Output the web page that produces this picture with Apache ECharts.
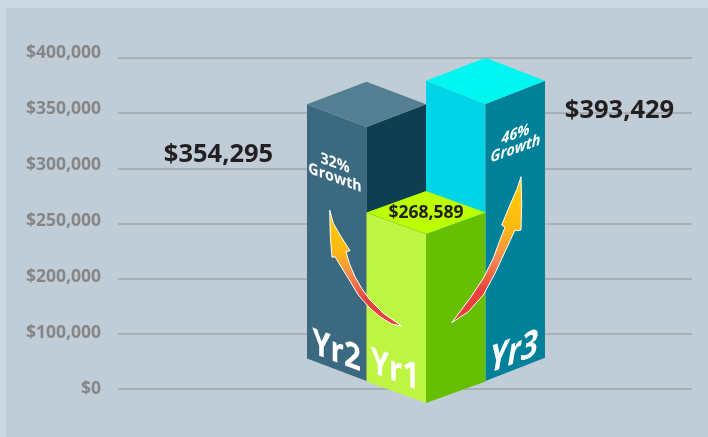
<!DOCTYPE html>
<html>
<head>
<meta charset="utf-8">
<style>html,body{margin:0;padding:0;background:#CCD8E2}#c{width:708px;height:437px}</style>
<script src="https://cdn.jsdelivr.net/npm/echarts@6/dist/echarts.min.js"></script>
</head>
<body>
<div id="c"></div>
<script>
// Tick labels (the reference's axis is evenly spaced but unevenly labelled)
var tickLabels = ['$0', '$100,000', '$200,000', '$250,000', '$300,000', '$350,000', '$400,000'];
// Bars, left to right
var categories = ['Yr2', 'Yr1', 'Yr3'];
var totals = [354295, 268589, 393429];
// Heights as drawn in axis steps (one step = one labelled gridline)
var frontTopLevels = [4.75, 2.81, 5.166];
var frontBaseLevels = [0.145, -0.254, 0.145];
var depthLevels = [0.41, 0.39, 0.42];
var growthPercent = [32, null, 46];
// Back-to-front painting order
var drawOrder = ['Yr2', 'Yr3', 'Yr1'];

var FONT = '"Open Sans", "Noto Sans", sans-serif';
var look = {
  Yr2: { left: '#3B6A80', right: '#0E3F50', top: '#547F93',
    name: { dx: -30, dy: -29, skew: 0.38, italic: false, size: 36, sx: 0.82 },
    total: { dx: -148, dy: -226 },
    growth: { dx: -31.5, dy: -210.5, skew: 0.36, italic: false } },
  Yr1: { left: '#BEF542', right: '#66BF00', top: '#BBFF00',
    name: { dx: -31, dy: -32, skew: 0.38, italic: false, size: 36, sx: 0.82 } },
  Yr3: { left: '#00D5E8', right: '#00819A', top: '#00F6F0',
    name: { dx: 28.5, dy: -28, skew: -0.38, italic: true, size: 37, sx: 0.85 },
    total: { dx: 134, dy: -270 },
    growth: { dx: 30, dy: -239.5, skew: -0.36, italic: true } }
};
// Arrow outlines, relative to the front-bottom corner of Yr1
var arrowLeft = [[-96.3,-193],[-92.7,-179.7],[-86,-168],[-76,-152.3],[-80,-151.3],[-76.7,-139.7],[-71,-126.3],[-64.3,-114.7],[-56,-103],[-42.7,-89.7],[-24.3,-77],[-34.3,-79],[-46,-86.3],[-56,-94.7],[-67.7,-108],[-77.7,-124.7],[-86,-138],[-91,-146.3],[-94,-145.7],[-95.7,-166.3]];
var arrowRight = [[95,-226.3],[91.3,-214.7],[84,-198],[75.7,-178],[79,-175.7],[73.3,-161.3],[67.3,-144.7],[57.3,-124.7],[44,-104.7],[25.7,-80.3],[42.3,-91.3],[57.3,-108],[69,-129.7],[79,-151.3],[89,-173],[91.3,-172.3],[95,-173],[95.7,-199.7]];

function fireGradient() {
  return new echarts.graphic.LinearGradient(0, 0, 0, 1, [
    { offset: 0, color: '#FFD000' },
    { offset: 0.36, color: '#FDB813' },
    { offset: 0.56, color: '#F58A4B' },
    { offset: 0.78, color: '#E8403C' },
    { offset: 1, color: '#E8403C' }
  ]);
}

// Text sheared along the face of a bar: vertical strokes stay vertical, the baseline slopes by k.
// ECharts' custom series has no skew property, so the shear is built from rotate-scale-rotate.
function shearedText(text, x, y, size, k, sx, italic) {
  var m00 = sx, m01 = 0, m10 = k * sx, m11 = 1;
  var E = (m00 + m11) / 2, F = (m00 - m11) / 2, G = (m10 + m01) / 2, H = (m10 - m01) / 2;
  var Q = Math.hypot(E, H), R = Math.hypot(F, G);
  var a1 = Math.atan2(G, F), a2 = Math.atan2(H, E);
  var theta = (a2 - a1) / 2, phi = (a2 + a1) / 2;
  return { type: 'group', x: x, y: y, rotation: -phi, children: [
    { type: 'group', scaleX: Q + R, scaleY: Q - R, children: [
      { type: 'text', rotation: -theta,
        style: { text: text, fill: '#FFFFFF', align: 'center', verticalAlign: 'middle',
          font: (italic ? 'italic ' : '') + 'bold ' + size + 'px ' + FONT } }
    ] }
  ] };
}

function renderBar(params, api) {
  var name = drawOrder[params.dataIndex];
  var st = look[name];
  var idx = api.value(0);
  var front = api.coord([idx, api.value(1)]);
  var base = api.coord([idx, api.value(2)]);
  var dx = api.size([1, 0])[0];
  var dy = api.size([0, api.value(3)])[1];
  var fx = front[0], ty = front[1], by = base[1];
  var children = [
    { type: 'polygon', shape: { points: [[fx, ty], [fx - dx, ty - dy], [fx - dx, by - dy], [fx, by]] }, style: { fill: st.left } },
    { type: 'polygon', shape: { points: [[fx, ty], [fx + dx, ty - dy], [fx + dx, by - dy], [fx, by]] }, style: { fill: st.right } },
    { type: 'polygon', shape: { points: [[fx, ty], [fx - dx, ty - dy], [fx, ty - 2 * dy], [fx + dx, ty - dy]] }, style: { fill: st.top } }
  ];
  function plain(text, x, y, size) {
    return { type: 'text', x: x, y: y,
      style: { text: text, fill: '#231F20', align: 'center', verticalAlign: 'middle',
        font: 'bold ' + size + 'px ' + FONT } };
  }
  var i = categories.indexOf(name);
  var total = '$' + totals[i].toLocaleString('en-US');
  var pct = growthPercent[i];
  children.push(shearedText(name, fx + st.name.dx, by + st.name.dy, st.name.size, st.name.skew, st.name.sx, st.name.italic));
  if (st.total) {
    children.push(plain(total, fx + st.total.dx, by + st.total.dy, 25.5));
  } else {
    children.push(plain(total, fx, ty - dy + 1, 17.5));
  }
  if (pct !== null) {
    var g = st.growth;
    children.push(shearedText(pct + '%', fx + g.dx, by + g.dy - 7, 15.5, g.skew, 0.92, g.italic));
    children.push(shearedText('Growth', fx + g.dx, by + g.dy + 7.5, 15.5, g.skew, 0.92, g.italic));
  }
  if (name === 'Yr1') {
    [arrowLeft, arrowRight].forEach(function (pts) {
      children.push({ type: 'polygon',
        shape: { points: pts.map(function (p) { return [fx + p[0], by + p[1]]; }) },
        style: { fill: fireGradient(), stroke: '#FFFFFF', lineWidth: 1, lineJoin: 'miter' } });
    });
  }
  return { type: 'group', children: children };
}

var chart = echarts.init(document.getElementById('c'), null, { renderer: 'canvas' });
chart.setOption({
  animation: false,
  backgroundColor: '#CCD8E2',
  graphic: [{ type: 'rect', z: -10, silent: true, shape: { x: 6, y: 8, width: 702, height: 429 }, style: { fill: '#C0CDD7' } }],
  grid: [
    { left: 118, right: 16, top: 58, bottom: 48 },
    { left: 336.75, width: 178.5, top: 58, bottom: 48 },
    // labels climb slightly faster than the gridlines in the reference
    { left: 118, right: 16, top: 52.7, bottom: 48.3 }
  ],
  xAxis: [
    { type: 'category', gridIndex: 0, show: false, data: categories },
    { type: 'category', gridIndex: 1, show: false, data: categories },
    { type: 'category', gridIndex: 2, show: false, data: categories }
  ],
  yAxis: [
    { type: 'value', gridIndex: 0, min: 0, max: 6, interval: 1,
      axisLine: { show: false }, axisTick: { show: false }, axisLabel: { show: false },
      splitLine: { show: true, lineStyle: { color: '#A0A6AD', width: 1.5 } } },
    { type: 'value', gridIndex: 1, min: 0, max: 6, interval: 1, show: false, splitLine: { show: false } },
    { type: 'value', gridIndex: 2, min: 0, max: 6, interval: 1,
      axisLine: { show: false }, axisTick: { show: false }, splitLine: { show: false },
      axisLabel: { margin: 17, color: '#868686', fontFamily: FONT, fontWeight: 'bold', fontSize: 17.5,
        formatter: function (v) { return tickLabels[v]; } } }
  ],
  series: [{
    type: 'custom', xAxisIndex: 1, yAxisIndex: 1, silent: true, clip: false,
    renderItem: renderBar,
    encode: { x: 0, y: 1 },
    data: drawOrder.map(function (n) {
      var i = categories.indexOf(n);
      return [n, frontTopLevels[i], frontBaseLevels[i], depthLevels[i]];
    })
  }]
});
</script>
</body>
</html>
